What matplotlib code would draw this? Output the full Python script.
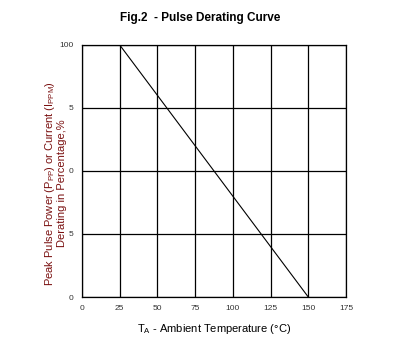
import matplotlib.pyplot as plt

# Derating curve data
temp = [25, 150]
derating = [100, 0]

x_ticks = [0, 25, 50, 75, 100, 125, 150, 175]
y_ticks = [0, 25, 50, 75, 100]
y_tick_labels = ['0', '5', '0', '5', '100']

plt.rcParams['font.family'] = ['Liberation Sans', 'DejaVu Sans']

fig = plt.figure(figsize=(4.08, 3.54), dpi=100)
ax = fig.add_axes([0.201, 0.161, 0.647, 0.712])

ax.plot(temp, derating, color='black', linewidth=0.8)

ax.set_xlim(0, 175)
ax.set_ylim(0, 100)
ax.set_xticks(x_ticks)
ax.set_yticks(y_ticks)
ax.set_yticklabels(y_tick_labels)
ax.tick_params(length=0, labelsize=6, colors='#333333', pad=6)
ax.grid(True, color='black', linewidth=0.9)
for s in ax.spines.values():
    s.set_linewidth(0.9)

fig.text(0.49, 0.948, 'Fig.2  - Pulse Derating Curve', ha='center', va='center',
         fontsize=8.5, fontweight='bold')
ax.set_xlabel(r'T$_\mathregular{A}$ - Ambient Temperature ($\mathregular{\degree}$C)',
              fontsize=8, labelpad=7)
ax.set_ylabel('Peak Pulse Power (P$_\\mathregular{PP}$) or Current (I$_\\mathregular{PPM}$)\n'
              'Derating in Percentage,%', fontsize=8, color='#7a1010',
              linespacing=1.1)
ax.yaxis.set_label_coords(-0.055, 0.45)

fig.savefig('out.png', dpi=100)
